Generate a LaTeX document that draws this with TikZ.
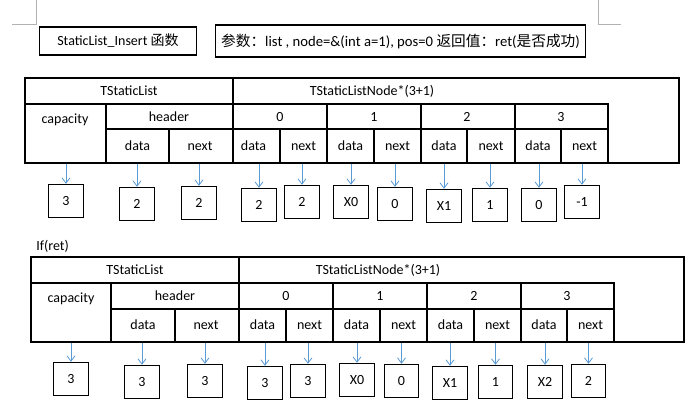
\documentclass[tikz,border=0pt]{standalone}
\usetikzlibrary{arrows.meta}
\usepackage{fontspec}
\setmainfont{Carlito}
\newfontfamily\cjk{Noto Sans CJK SC}
\definecolor{arrblue}{RGB}{91,155,213}
\begin{document}
\begin{tikzpicture}[x=0.75pt,y=-0.75pt,
  lbl/.style={font=\fontsize{10.5}{12}\selectfont,inner sep=0pt},
  vbox/.style={draw,line width=0.8pt,minimum width=26pt,minimum height=25pt,inner sep=0pt,font=\fontsize{10.5}{12}\selectfont},
  arr/.style={draw=arrblue,line width=0.6pt,-{Straight Barb[length=4pt,width=6pt]}},
  tline/.style={line width=0.9pt}]
\useasboundingbox (0,0) rectangle (690,417);
\fill[white] (0,0) rectangle (690,417);
% page corner marks
\draw[gray!60] (36,0) -- (36,24) -- (12,24);
\draw[gray!60] (598,0) -- (598,24) -- (621,24);
% title boxes
\node[draw,line width=0.8pt,minimum width=118pt,minimum height=21pt,font=\fontsize{10.5}{12}\selectfont] (t1) at (118,41) {StaticList\_Insert {\cjk 函数}};
\node[draw,line width=0.8pt,minimum width=277pt,minimum height=24pt,font=\fontsize{11}{13}\selectfont] (t2) at (400.5,41) {{\cjk 参数：}list , node=\&(int a=1), pos=0 {\cjk 返回值：}ret({\cjk 是否成功})};
% ---------- Table 1 ----------
\begin{scope}[tline]
\draw (25,78) rectangle (679,163);
\draw (25,104) -- (608,104) -- (608,163);
\draw (233,78) -- (233,163);
\draw (106,104) -- (106,163);
\draw (106,129) -- (608,129);
\foreach \x in {327,421,515} \draw (\x,104) -- (\x,163);
\foreach \x in {169,280,374,467,561} \draw (\x,129) -- (\x,163);
\end{scope}
\node[lbl] (h1) at (129,91) {TStaticList};
\node[lbl] (h2) at (372,91) {TStaticListNode*(3+1)};
\node[lbl] (cap1) at (65,120) {capacity};
\node[lbl] (hd1) at (169,117) {header};
\foreach \i/\x in {0/280,1/374,2/467,3/561} \node[lbl] at (\x,117) {\i};
\foreach \x in {137.5,253.5,350.5,444,538} \node[lbl] at (\x,146) {data};
\foreach \x in {200,303.5,397.5,491,584.5} \node[lbl] at (\x,146) {next};
\foreach \n/\x/\y/\t in {a1/66/201/3,a2/137/204/2,a3/199/203/2,a4/259/205/2,a5/302/202/2,a6/351/202/X0,a7/395/204/0,a8/444/206/X1,a9/490/205/1,a10/539/205/0,a11/582/202/-1}{
  \node[vbox] (\n) at (\x,\y) {\t};
  \draw[arr] (\x,164) -- (\n.north);
}
% ---------- Table 2 ----------
\node[lbl,anchor=west] (ifret) at (36,246) {If(ret)};
\begin{scope}[tline]
\draw (31,257) rectangle (684,342);
\draw (31,283) -- (614,283) -- (614,342);
\draw (239,257) -- (239,342);
\draw (111,283) -- (111,342);
\draw (111,309) -- (614,309);
\foreach \x in {333,427,521} \draw (\x,283) -- (\x,342);
\foreach \x in {175,286,380,474,567} \draw (\x,309) -- (\x,342);
\end{scope}
\node[lbl] (h3) at (135,270) {TStaticList};
\node[lbl] (h4) at (378,270) {TStaticListNode*(3+1)};
\node[lbl] (cap2) at (71,299) {capacity};
\node[lbl] (hd2) at (175,296) {header};
\foreach \i/\x in {0/286,1/380,2/474,3/567} \node[lbl] at (\x,296) {\i};
\foreach \x in {143,262.5,356.5,450.5,544} \node[lbl] at (\x,325) {data};
\foreach \x in {206,309.5,403.5,497.5,590.5} \node[lbl] at (\x,325) {next};
\foreach \n/\x/\y/\t in {b1/71/379/3,b2/142/382/3,b3/205/381/3,b4/265/383/3,b5/308/381/3,b6/357/380/X0,b7/401.5/381/0,b8/450/383/X1,b9/495.5/382/1,b10/545/382/X2,b11/588.5/381/2}{
  \node[vbox] (\n) at (\x,\y) {\t};
  \draw[arr] (\x,343) -- (\n.north);
}
\end{tikzpicture}
\end{document}
